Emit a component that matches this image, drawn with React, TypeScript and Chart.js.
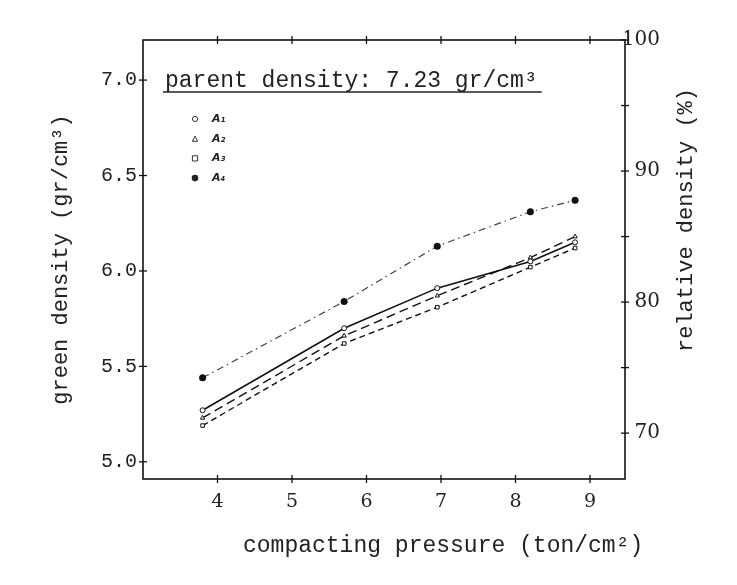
import React, { useEffect, useRef } from 'react';
import { Chart, registerables } from 'chart.js';

Chart.register(...registerables);

// ---- data ----
const pressures = [3.8, 5.7, 6.95, 8.2, 8.8];
const seriesA1 = [5.27, 5.7, 5.91, 6.05, 6.15];
const seriesA2 = [5.23, 5.66, 5.87, 6.07, 6.18];
const seriesA3 = [5.19, 5.62, 5.81, 6.02, 6.12];
const seriesA4 = [5.44, 5.84, 6.13, 6.31, 6.37];
const seriesNames = ['A₁', 'A₂', 'A₃', 'A₄'];

const xTickValues = [4, 5, 6, 7, 8, 9];
const leftTickValues = [5.0, 5.5, 6.0, 6.5, 7.0];
const rightTickValues = [70, 75, 80, 85, 90, 95, 100];
const rightLabelValues = [70, 80, 90, 100];

const parentDensityLabel = 'parent density: 7.23 gr/cm³';
const xTitle = 'compacting pressure (ton/cm²)';
const leftTitle = 'green density (gr/cm³)';
const rightTitle = 'relative density (%)';

const INK = '#222';
const MONO = '"Liberation Mono", "DejaVu Sans Mono", monospace';
const SERIF = '"DejaVu Serif", "Liberation Serif", serif';

const toPoints = (ys: number[]) => ys.map((y, i) => ({ x: pressures[i], y }));

const decorPlugin = {
  id: 'decor',
  beforeDatasetsDraw(chart: any) {
    const { ctx, chartArea: a, scales } = chart;
    ctx.save();
    ctx.strokeStyle = '#111';
    ctx.lineWidth = 1.6;
    ctx.strokeRect(a.left, a.top, a.right - a.left, a.bottom - a.top);
    ctx.lineWidth = 1.3;
    const tk = 4;
    const line = (x1: number, y1: number, x2: number, y2: number) => {
      ctx.beginPath();
      ctx.moveTo(x1, y1);
      ctx.lineTo(x2, y2);
      ctx.stroke();
    };
    scales.x.ticks.forEach((t: any) => {
      const px = scales.x.getPixelForValue(t.value);
      line(px, a.bottom - tk, px, a.bottom + tk);
      line(px, a.top - tk, px, a.top + tk);
    });
    scales.y.ticks.forEach((t: any) => {
      const py = scales.y.getPixelForValue(t.value);
      line(a.left - tk, py, a.left + tk, py);
    });
    scales.y2.ticks.forEach((t: any) => {
      const py = scales.y2.getPixelForValue(t.value);
      line(a.right - tk, py, a.right + tk, py);
    });
    ctx.restore();
  },
  afterDraw(chart: any) {
    const { ctx, chartArea: a } = chart;
    ctx.save();
    ctx.fillStyle = INK;
    ctx.strokeStyle = INK;

    // parent density annotation with underline
    ctx.font = `23px ${MONO}`;
    ctx.textAlign = 'left';
    ctx.textBaseline = 'alphabetic';
    const tx = a.left + 22;
    const ty = a.top + 47;
    ctx.fillText(parentDensityLabel, tx, ty);
    const w = ctx.measureText(parentDensityLabel).width;
    ctx.lineWidth = 1.3;
    ctx.beginPath();
    ctx.moveTo(tx - 2, ty + 5);
    ctx.lineTo(tx + w + 4, ty + 5);
    ctx.stroke();

    // legend inside the plot
    const lx = a.left + 52;
    const ly0 = a.top + 79;
    const step = 19.7;
    chart.data.datasets.forEach((ds: any, i: number) => {
      const y = ly0 + i * step;
      ctx.lineWidth = 1;
      ctx.strokeStyle = '#333';
      ctx.fillStyle = '#222';
      const r = 2.6;
      ctx.beginPath();
      if (ds.pointStyle === 'triangle') {
        ctx.moveTo(lx - r, y + r);
        ctx.lineTo(lx, y - r);
        ctx.lineTo(lx + r, y + r);
        ctx.closePath();
        ctx.stroke();
      } else if (ds.pointStyle === 'rect') {
        ctx.rect(lx - r, y - r, 2 * r, 2 * r);
        ctx.stroke();
      } else {
        ctx.arc(lx, y, ds.pointBackgroundColor === '#111' ? 3.3 : r, 0, Math.PI * 2);
        if (ds.pointBackgroundColor === '#111') ctx.fill();
        else ctx.stroke();
      }
      ctx.font = `italic bold 11px "DejaVu Sans", sans-serif`;
      ctx.textBaseline = 'middle';
      ctx.fillStyle = INK;
      ctx.fillText(ds.label, lx + 17, y);
    });

    // x axis title
    ctx.font = `23px ${MONO}`;
    ctx.textBaseline = 'middle';
    ctx.textAlign = 'left';
    ctx.fillStyle = INK;
    ctx.fillText(xTitle, 243, 546);

    // right axis title (reads bottom to top)
    ctx.font = `22px ${MONO}`;
    ctx.translate(686, 220);
    ctx.rotate(-Math.PI / 2);
    ctx.textAlign = 'center';
    ctx.fillText(rightTitle, 0, 0);
    ctx.restore();
  },
};

export default function App() {
  const ref = useRef<HTMLCanvasElement | null>(null);

  useEffect(() => {
    if (!ref.current) return;
    const chart = new Chart(ref.current, {
      type: 'line',
      data: {
        datasets: [
          {
            label: seriesNames[0],
            data: toPoints(seriesA1),
            borderColor: '#111',
            borderWidth: 1.6,
            pointStyle: 'circle',
            pointRadius: 2.5,
            pointBackgroundColor: '#fff',
            pointBorderColor: '#111',
            pointBorderWidth: 1,
          },
          {
            label: seriesNames[1],
            data: toPoints(seriesA2),
            borderColor: '#111',
            borderWidth: 1.4,
            borderDash: [9, 5],
            pointStyle: 'triangle',
            pointRadius: 2.5,
            pointBackgroundColor: '#fff',
            pointBorderColor: '#111',
            pointBorderWidth: 1,
          },
          {
            label: seriesNames[2],
            data: toPoints(seriesA3),
            borderColor: '#111',
            borderWidth: 1.4,
            borderDash: [6, 4],
            pointStyle: 'rect',
            pointRadius: 2.5,
            pointBackgroundColor: '#fff',
            pointBorderColor: '#111',
            pointBorderWidth: 1,
          },
          {
            label: seriesNames[3],
            data: toPoints(seriesA4),
            borderColor: '#444',
            borderWidth: 1.2,
            borderDash: [7, 4, 1.5, 4],
            pointStyle: 'circle',
            pointRadius: 3.5,
            pointBackgroundColor: '#111',
            pointBorderColor: '#111',
            pointBorderWidth: 0,
          },
        ],
      },
      options: {
        responsive: false,
        animation: false,
        layout: { padding: { top: 40, left: 0, right: 77, bottom: 0 } },
        plugins: {
          legend: { display: false },
          tooltip: { enabled: false },
        },
        scales: {
          x: {
            type: 'linear',
            min: 3,
            max: 9.47,
            grid: { display: false, drawTicks: false },
            border: { display: false },
            afterBuildTicks: (s: any) => {
              s.ticks = xTickValues.map((v) => ({ value: v }));
            },
            afterFit: (s: any) => {
              s.height = 106;
            },
            ticks: {
              color: INK,
              padding: 12,
              font: { family: SERIF, size: 19 },
              callback: (v: any) => String(v),
            },
          },
          y: {
            type: 'linear',
            position: 'left',
            min: 4.91,
            max: 7.21,
            grid: { display: false, drawTicks: false },
            border: { display: false },
            afterBuildTicks: (s: any) => {
              s.ticks = leftTickValues.map((v) => ({ value: v }));
            },
            afterFit: (s: any) => {
              s.width = 143;
            },
            ticks: {
              color: INK,
              padding: 6,
              font: { family: MONO, size: 20 },
              callback: (v: any) => Number(v).toFixed(1),
            },
            title: {
              display: true,
              text: leftTitle,
              color: INK,
              font: { family: MONO, size: 22 },
              padding: { top: 48, bottom: 0 },
            },
          },
          y2: {
            type: 'linear',
            position: 'right',
            min: 66.5,
            max: 100,
            grid: { display: false, drawTicks: false },
            border: { display: false },
            afterBuildTicks: (s: any) => {
              s.ticks = rightTickValues.map((v) => ({ value: v }));
            },
            afterFit: (s: any) => {
              s.width = 35;
            },
            ticks: {
              color: INK,
              padding: 0,
              crossAlign: 'far',
              font: { family: SERIF, size: 20 },
              callback: (v: any) => (rightLabelValues.includes(Number(v)) ? String(v) : ''),
            },
          },
        },
      },
      plugins: [decorPlugin],
    } as any);
    return () => chart.destroy();
  }, []);

  return (
    <div style={{ position: 'absolute', left: 0, top: 0, width: 737, height: 585, background: '#fff' }}>
      <canvas ref={ref} width={737} height={585} />
    </div>
  );
}
